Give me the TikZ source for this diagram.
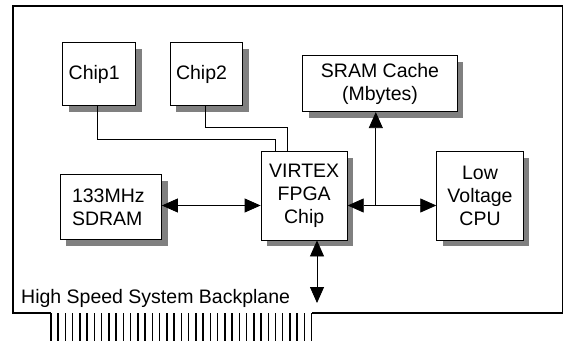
\documentclass[tikz,border=0pt]{standalone}
\usepackage{fontspec}
\setmainfont{Liberation Sans}
\usetikzlibrary{arrows.meta,shadows}
\begin{document}
\begin{tikzpicture}[x=1pt,y=-1pt,
  blk/.style={draw, line width=0.8pt, fill=white, inner sep=0pt,
    drop shadow={shadow xshift=6pt, shadow yshift=-6pt, fill=black!50, opacity=1},
    font=\fontsize{19.5}{23}\selectfont, align=center},
  leftblk/.style={blk, align=left, inner xsep=6pt},
  wire/.style={line width=0.8pt},
  dblarrow/.style={line width=0.8pt, {Triangle[length=16pt,width=14pt]}-{Triangle[length=16pt,width=14pt]}},
  onearrow/.style={line width=0.8pt, -{Triangle[length=16pt,width=14pt]}},
  board/.style={line width=1.8pt, line join=miter},
  tooth/.style={line width=1.5pt}
]
\useasboundingbox (0,0) rectangle (564,341);

% board outline
\draw[board] (51,313) -- (12.7,313) -- (12.7,6) -- (562.5,6) -- (562.5,313) -- (311.7,313);
% connector teeth
\foreach \i in {0,...,36} {
  \draw[tooth] ({51+\i*7.242},313) -- ({51+\i*7.242},341);
}

% blocks
\node[leftblk, text width=61pt, minimum height=63pt] (chipA) at (99.2,74.2) {Chip1};
\node[leftblk, text width=60.7pt, minimum height=63pt] (chipB) at (206.35,74.2) {Chip2};
\node[blk, minimum width=154.6pt, minimum height=56pt] (sram) at (380,83.7) {SRAM Cache\\(Mbytes)};
\node[blk, align=left, inner xsep=12pt, text width=77.5pt, minimum height=65pt] (sdram) at (110.75,207) {133MHz\\SDRAM};
\node[blk, minimum width=86.3pt, minimum height=88.3pt] (fpga) at (304.15,195.85) {VIRTEX\\FPGA\\Chip};
\node[blk, minimum width=86.6pt, minimum height=88.3pt] (cpu) at (480,195.85) {Low\\Voltage\\CPU};

\node[anchor=base west, inner sep=0pt, font=\fontsize{19.5}{23}\selectfont] (bptext) at (21,303) {High Speed System Backplane};

% helper coordinates
\coordinate (hy) at (0,205.5);
\coordinate (j) at (375.8,205.5);
\coordinate (bp) at (317,303);

% chip wires
\draw[wire] ([xshift=-1.5pt]chipA.south) -- ++(0,33.6) -| ([xshift=-29.15pt]fpga.north);
\draw[wire] ([xshift=-1.35pt]chipB.south) -- ++(0,21.6) -| ([xshift=-16.45pt]fpga.north);

% arrows
\draw[dblarrow] (sdram.east |- hy) -- (fpga.west |- hy);
\draw[dblarrow] (fpga.east |- hy) -- (cpu.west |- hy);
\draw[onearrow] (j) -- (j |- sram.south);
\draw[dblarrow] (bp |- fpga.south) -- (bp);
\end{tikzpicture}
\end{document}
